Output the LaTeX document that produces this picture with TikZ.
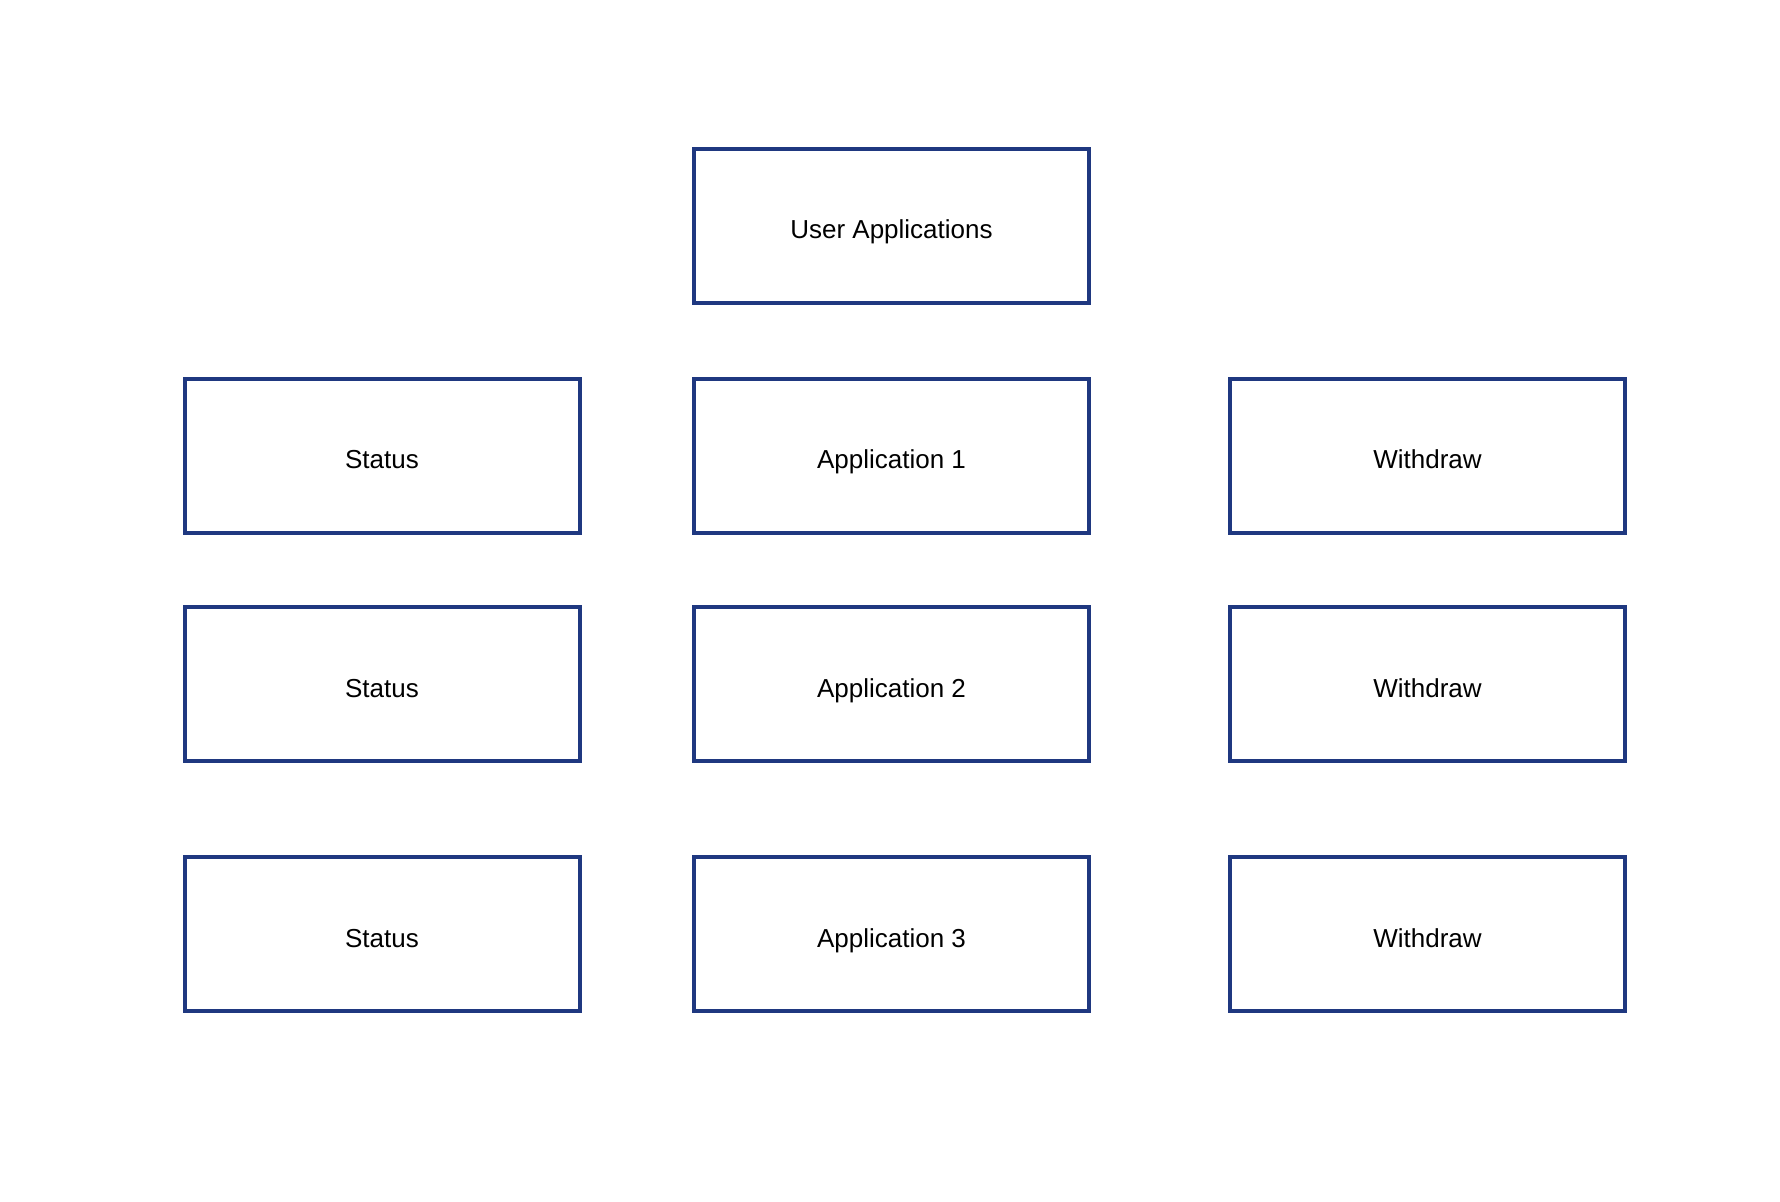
\documentclass[tikz,border=0pt]{standalone}
\usepackage{fontspec}
\setmainfont{Liberation Sans}
\definecolor{appblue}{RGB}{31,56,128}

\begin{document}
\begin{tikzpicture}[x=0.5pt, y=-0.5pt,
  box/.style={draw=appblue, line width=2pt, minimum width=197.5pt, minimum height=77pt, inner sep=0pt,
    text height=15pt, text depth=2pt, font=\fontsize{13}{15}\selectfont}]
\useasboundingbox (0,0) rectangle (1780,1202);
\node[box] (user) at (891.5,226) {User Applications};
\foreach \i/\y in {1/456,2/684,3/934} % edit here for the rows
{
\node[box] (status\i) at (382,\y) {Status};
\node[box] (app\i) at (891.5,\y) {Application \i};
\node[box] (withdraw\i) at (1427.5,\y) {Withdraw};
}
\end{tikzpicture}
\end{document}
